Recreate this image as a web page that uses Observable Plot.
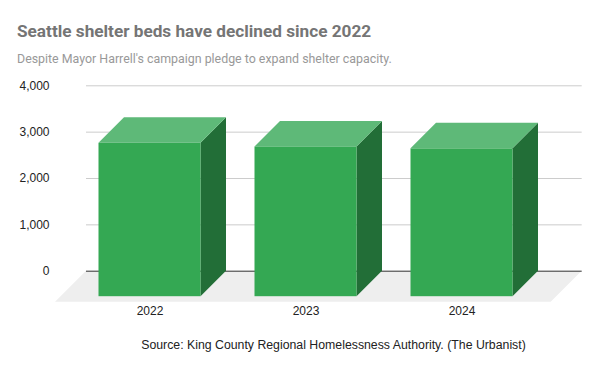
<!DOCTYPE html>
<html>
<head>
<meta charset="utf-8">
<script src="https://cdn.jsdelivr.net/npm/d3@7"></script>
<script src="https://cdn.jsdelivr.net/npm/@observablehq/plot@0.6"></script>
<style>
  html, body { margin: 0; padding: 0; background: #fff; }
  #wrap { position: relative; width: 600px; height: 371px; overflow: hidden; }
  #title { position: absolute; left: 17px; top: 22.5px; font: bold 17.2px/17.2px Roboto, sans-serif; color: #757575; white-space: nowrap; }
  #subtitle { position: absolute; left: 17px; top: 52.6px; font: 12.4px/12.4px Roboto, sans-serif; color: #999999; white-space: nowrap; }
  #chart { position: absolute; left: 0; top: 72px; }
  #caption { position: absolute; left: 0; width: 667px; top: 338.9px; text-align: center; font: 12.3px/12.3px Arial, "Liberation Sans", sans-serif; color: #222; white-space: nowrap; }
</style>
</head>
<body>
<div id="wrap">
  <div id="title">Seattle shelter beds have declined since 2022</div>
  <div id="subtitle">Despite Mayor Harrell's campaign pledge to expand shelter capacity.</div>
  <div id="chart"></div>
  <div id="caption">Source: King County Regional Homelessness Authority. (The Urbanist)</div>
</div>
<script>
// Data
const years = ["2022", "2023", "2024"];
const beds = [3310, 3230, 3190];
const yTicks = [0, 1000, 2000, 3000, 4000];

const data = years.map((year, i) => ({year, value: beds[i]}));

// 3D look
const DX = 25.5, DY = 25.5;      // bar depth offset (px)
const FX = 31, FY = 31;          // floor depth offset (px)
const FRONT = "#34a853", TOP = "#5eb978", SIDE = "#226e37", FLOOR = "#eeeeee";

function bandwidthOf(x, scales) {
  if (typeof x.bandwidth === "function") return x.bandwidth();
  return scales.scales.x.bandwidth;
}

const floorMark = (index, scales, values, dims) => {
  const y0 = scales.y(0);
  const L = dims.marginLeft, R = dims.width - dims.marginRight;
  const g = d3.create("svg:g");
  g.append("polygon")
    .attr("points", [[L, y0], [R, y0], [R - FX, y0 + FY], [L - FX, y0 + FY]].join(" "))
    .attr("fill", FLOOR);
  return g.node();
};

const facesMark = (index, scales, values, dims) => {
  const x = scales.x, y = scales.y;
  const bw = bandwidthOf(x, scales);
  const g = d3.create("svg:g");
  for (const d of data) {
    const x1 = x(d.year), x2 = x1 + bw, yt = y(d.value), y0 = y(0);
    g.append("polygon")
      .attr("points", [[x2 - DX, yt + DY], [x2, yt], [x2, y0], [x2 - DX, y0 + DY]].join(" "))
      .attr("fill", SIDE);
    g.append("polygon")
      .attr("points", [[x1 - DX, yt + DY], [x2 - DX, yt + DY], [x2, yt], [x1, yt]].join(" "))
      .attr("fill", TOP);
  }
  return g.node();
};

const chart = Plot.plot({
  width: 600,
  height: 258,
  marginLeft: 86,
  marginRight: 18.3,
  marginTop: 13.3,
  marginBottom: 59.3,
  style: {fontFamily: "Arial, 'Liberation Sans', sans-serif", fontSize: "12px", color: "#222", background: "transparent"},
  x: {type: "band", domain: years, range: [84.4, 577.7], paddingInner: 0.348, paddingOuter: 0.25, axis: null},
  y: {domain: [0, 4000], ticks: yTicks, tickSize: 0, tickPadding: 37, label: null},
  marks: [
    Plot.ruleY(yTicks.filter(t => t !== 0), {stroke: "#cccccc", strokeWidth: 1}),
    floorMark,
    Plot.ruleY([0], {stroke: "#333333", strokeWidth: 1}),
    facesMark,
    Plot.barY(data, {x: "year", y: "value", fill: FRONT, dx: -DX, dy: DY}),
    Plot.text(data, {x: "year", text: "year", frameAnchor: "bottom", dx: -DX, dy: 43.8, fontSize: 12, fill: "#222"})
  ]
});
document.getElementById("chart").appendChild(chart);
</script>
</body>
</html>
